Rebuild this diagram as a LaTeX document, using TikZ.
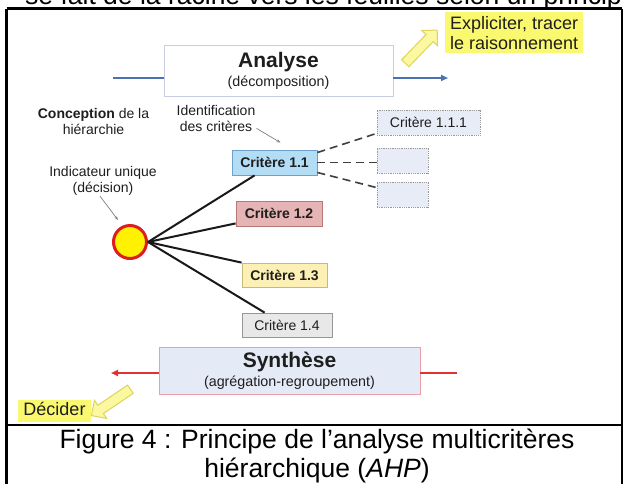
\documentclass[tikz,border=0pt]{standalone}
\usepackage{fontspec}
\setmainfont{Liberation Sans}
\usetikzlibrary{arrows.meta,shapes.arrows}

\definecolor{ink}{RGB}{30,30,30}
\definecolor{blueline}{RGB}{74,114,178}
\definecolor{redline}{RGB}{224,50,50}
\definecolor{anabd}{RGB}{200,205,225}
\definecolor{synfill}{RGB}{228,234,246}
\definecolor{synbd}{RGB}{232,160,170}
\definecolor{cAfill}{RGB}{179,220,245}
\definecolor{cAbd}{RGB}{110,160,200}
\definecolor{cBfill}{RGB}{230,180,180}
\definecolor{cBbd}{RGB}{180,120,120}
\definecolor{cCfill}{RGB}{253,240,180}
\definecolor{cCbd}{RGB}{200,185,120}
\definecolor{cDfill}{RGB}{232,232,232}
\definecolor{cDbd}{RGB}{150,150,150}
\definecolor{subfill}{RGB}{232,236,247}
\definecolor{hilite}{RGB}{250,248,110}
\definecolor{yarrfill}{RGB}{250,248,160}
\definecolor{yarrbd}{RGB}{225,210,90}
\definecolor{ringred}{RGB}{220,30,30}

\tikzset{
  frame/.style={line width=2.2pt, black},
  bigbox/.style={rectangle, inner sep=0pt, align=center, text=ink,
    font=\fontsize{14.3}{19}\selectfont},
  crit/.style={rectangle, draw, inner sep=0pt, minimum height=25pt, text=ink,
    font=\fontsize{14}{16}\selectfont\bfseries, line width=0.8pt},
  subcrit/.style={rectangle, draw=gray!80, densely dotted, fill=subfill, inner sep=0pt,
    minimum height=25pt, text=ink, font=\fontsize{14}{16}\selectfont, line width=0.8pt},
  label/.style={align=center, text=ink, inner sep=0pt, font=\fontsize{14}{16}\selectfont},
  branch/.style={line width=2pt, black!90},
  subbranch/.style={line width=1.6pt, black!75, dash pattern=on 8pt off 5pt},
  pointer/.style={line width=0.7pt, gray, -{Stealth[length=4pt,width=3pt]}},
  flowblue/.style={line width=2pt, blueline, -{Triangle[length=7pt,width=6pt]}},
  flowred/.style={line width=2pt, redline},
  yarrow/.style={single arrow, fill=yarrfill, draw=yarrbd, line width=1pt,
    inner sep=0pt, inner ysep=4.5pt, single arrow head extend=6pt,
    single arrow head indent=0pt},
  note/.style={fill=hilite, text=ink, inner xsep=5pt, align=left,
    font=\fontsize{18}{20}\selectfont},
  captext/.style={inner sep=0pt, text=black, font=\fontsize{26.5}{29}\selectfont},
}

\begin{document}
\begin{tikzpicture}[x=1pt, y=-1pt]
\useasboundingbox (0,0) rectangle (624,483);
\fill[white] (0,0) rectangle (624,483);

% line of body text above the framed figure
\node[captext, anchor=base west] (bodyline) at (25,4)
  {se fait de la racine vers les feuilles selon un princip};

% table frame
\draw[frame] (6.5,8.5) -- (622,8.5);
\draw[frame] (6.5,8.5) -- (6.5,490);
\draw[frame] (622,8.5) -- (622,490);
\draw[frame] (6.5,425) -- (622,425);

% analysis block
\node[bigbox, draw=anabd, fill=white, line width=0.9pt,
      minimum width=229pt, minimum height=51pt] (analyse) at (278.5,70.5)
  {{\fontsize{21}{21}\selectfont\bfseries Analyse}\\(décomposition)};
\coordinate (anaIn) at (113,78);
\coordinate (anaOut) at (448,78);
\draw[line width=2pt, blueline] (anaIn) -- (anaIn -| analyse.west);
\draw[flowblue] (anaOut -| analyse.east) -- (anaOut);

% synthesis block
\node[bigbox, draw=synbd, fill=synfill, line width=0.9pt,
      minimum width=261pt, minimum height=47pt] (synthese) at (289.5,370.5)
  {{\fontsize{21}{21}\selectfont\bfseries Synthèse}\\(agrégation-regroupement)};
\coordinate (synOut) at (111,373);
\coordinate (synIn) at (457,373);
\draw[flowred, -{Triangle[length=7pt,width=6pt]}] (synOut -| synthese.west) -- (synOut);
\draw[flowred] (synIn -| synthese.east) -- (synIn);

% notes with block arrows
\node[note, anchor=north west, minimum height=41pt] (explicit) at (445,12)
  {Expliciter, tracer\\le raisonnement};
\node[yarrow, minimum height=46pt, rotate=46] (uparrow) at (419.5,48.5) {};

\node[note, text height=13pt, text depth=4pt, inner ysep=2.5pt] (decider) at (54.5,410.5)
  {Décider};
\node[yarrow, minimum height=47pt, rotate=214] (downarrow) at (113,401) {};

% side labels (anchored on the baseline of their last line)
\node[label, anchor=base] (concept) at (93.5,134)
  {\textbf{Conception} de la\\hiérarchie};
\node[label, anchor=base] (ident) at (216,131)
  {Identification\\des critères};
\node[label, anchor=base] (indic) at (103,192)
  {Indicateur unique\\(décision)};

% hierarchy
\node[circle, fill=yellow, draw=ringred, line width=3pt, minimum size=33pt,
      inner sep=0pt] (root) at (130,242) {};

\node[crit, fill=cAfill, draw=cAbd, minimum width=85pt] (c11) at (274.5,162.5) {Critère 1.1};
\node[crit, fill=cBfill, draw=cBbd, minimum width=86pt] (c12) at (279,213.5) {Critère 1.2};
\node[crit, fill=cCfill, draw=cCbd, minimum width=85pt, minimum height=24pt] (c13) at (284.5,275) {Critère 1.3};
\node[crit, fill=cDfill, draw=cDbd, minimum width=90pt, minimum height=24pt,
      font=\fontsize{14}{16}\selectfont] (c14) at (287,325) {Critère 1.4};

\node[subcrit, minimum width=103pt] (c111) at (428.5,122.5) {Critère 1.1.1};
\node[subcrit, minimum width=51pt] (c112) at (402.5,160.5) {};
\node[subcrit, minimum width=51pt] (c113) at (402.5,194.5) {};

\draw[branch] (root.east) -- ([xshift=23pt]c11.south west);
\draw[branch] (root.east) -- ([yshift=3pt]c12.south west);
\draw[branch] (root.east) -- (c13.north west);
\draw[branch] (root.east) -- ([xshift=23pt]c14.north west);

\draw[subbranch] ([yshift=10pt]c11.east) -- ([yshift=2pt]c111.south west);
\draw[subbranch] (c11.east) -- (c11.east -| c112.west);
\draw[subbranch] ([yshift=-10pt]c11.east) -- ([yshift=-6pt]c113.north west);

% pointers from the labels
\draw[pointer] ([xshift=1pt,yshift=3pt]ident.south east) -- ([xshift=6pt,yshift=7pt]c11.north);
\draw[pointer] ([xshift=-3pt,yshift=-1pt]indic.south) -- ([xshift=-12pt,yshift=22pt]root.center);

% caption
\node[captext, anchor=base] (cap1) at (317,448)
  {Figure 4 : Principe de l’analyse multicritères};
\node[captext, anchor=base] (cap2) at (317,477)
  {hiérarchique (\textit{AHP})};
\end{tikzpicture}
\end{document}
